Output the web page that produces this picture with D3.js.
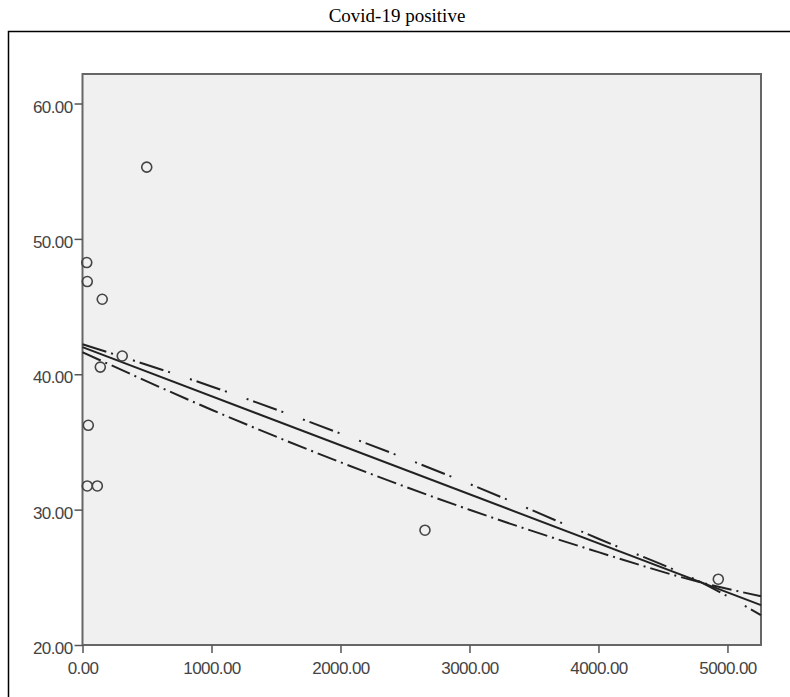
<!DOCTYPE html>
<meta charset="utf-8">
<style>

body {
  margin: 0;
  background: #fff;
}

.title {
  font-family: "Liberation Serif", "Times New Roman", serif;
  font-size: 19px;
  fill: #000;
}

.tick text {
  font-family: "Liberation Sans", Arial, sans-serif;
  font-size: 17px;
  fill: #444;
}

.tick line {
  stroke: #555;
  stroke-width: 1.5px;
}

.fit {
  fill: none;
  stroke: #222;
  stroke-width: 2px;
}

.dots circle {
  fill: none;
  stroke: #444;
  stroke-width: 1.6px;
}

</style>
<svg></svg>
<script src="https://cdn.jsdelivr.net/npm/d3@7"></script>
<script>

// scatter points
var pointX = [498, 33, 37, 153, 308, 138, 45, 37, 115, 2655, 4929];
var pointY = [55.3, 48.25, 46.85, 45.54, 41.35, 40.53, 36.23, 31.75, 31.75, 28.48, 24.86];

// solid fit line
var linX = [0, 5260];
var linY = [42.0, 22.95];

// curve readings for the two dashed fits
var curveX = [0, 1000, 2000, 3000, 4000, 4800, 5260];
var upperY = [42.22, 39.1, 35.62, 31.9, 27.85, 24.61, 22.2];
var lowerY = [41.63, 37.38, 33.5, 29.99, 26.86, 24.61, 23.6];

var xTicks = [0, 1000, 2000, 3000, 4000, 5000];
var yTicks = [20, 30, 40, 50, 60];

var width = 790,
    height = 697;

var svg = d3.select("svg")
    .attr("width", width)
    .attr("height", height);

svg.append("text")
    .attr("class", "title")
    .attr("x", 397)
    .attr("y", 22)
    .attr("text-anchor", "middle")
    .text("Covid-19 positive");

// outer frame, running off the right and bottom edge
svg.append("rect")
    .attr("x", 8.5)
    .attr("y", 31.5)
    .attr("width", 800)
    .attr("height", 700)
    .attr("fill", "none")
    .attr("stroke", "#000")
    .attr("stroke-width", 1.5);

var plotL = 82.5, plotR = 761, plotT = 74, plotB = 645;

var x = d3.scaleLinear().domain([0, 5260]).range([plotL, plotR]);
var y = d3.scaleLinear().domain([20, 62.18]).range([plotB, plotT]);

svg.append("rect")
    .attr("x", plotL)
    .attr("y", plotT)
    .attr("width", plotR - plotL)
    .attr("height", plotB - plotT)
    .attr("fill", "#f0f0f0")
    .attr("stroke", "#666")
    .attr("stroke-width", 2);

var fmt = d3.format(".2f");

svg.append("g")
    .attr("transform", "translate(0," + plotB + ")")
    .call(d3.axisBottom(x).tickValues(xTicks).tickFormat(fmt).tickSize(8).tickPadding(9))
    .call(function(g) { g.select(".domain").remove(); });

svg.append("g")
    .attr("transform", "translate(" + plotL + ",0)")
    .call(d3.axisLeft(y).tickValues(yTicks).tickFormat(fmt).tickSize(8).tickPadding(2))
    .call(function(g) { g.select(".domain").remove(); })
    .selectAll("text")
    .attr("dy", "0.5em");

svg.selectAll(".tick text").attr("letter-spacing", "-0.6px");

var line = d3.line()
    .x(function(d) { return x(d[0]); })
    .y(function(d) { return y(d[1]); });

var curve = d3.line()
    .curve(d3.curveMonotoneX)
    .x(function(d) { return x(d[0]); })
    .y(function(d) { return y(d[1]); });

svg.append("path")
    .attr("class", "fit")
    .attr("d", curve(d3.zip(curveX, lowerY)))
    .attr("stroke-dasharray", "20 5 2 5");

svg.append("path")
    .attr("class", "fit")
    .attr("d", curve(d3.zip(curveX, upperY)))
    .attr("stroke-dasharray", "25 5 2 21 2 5");

svg.append("path")
    .attr("class", "fit")
    .attr("d", line(d3.zip(linX, linY)));

svg.append("g")
    .attr("class", "dots")
  .selectAll("circle")
  .data(d3.zip(pointX, pointY))
  .enter().append("circle")
    .attr("cx", function(d) { return x(d[0]); })
    .attr("cy", function(d) { return y(d[1]); })
    .attr("r", 5);

</script>
